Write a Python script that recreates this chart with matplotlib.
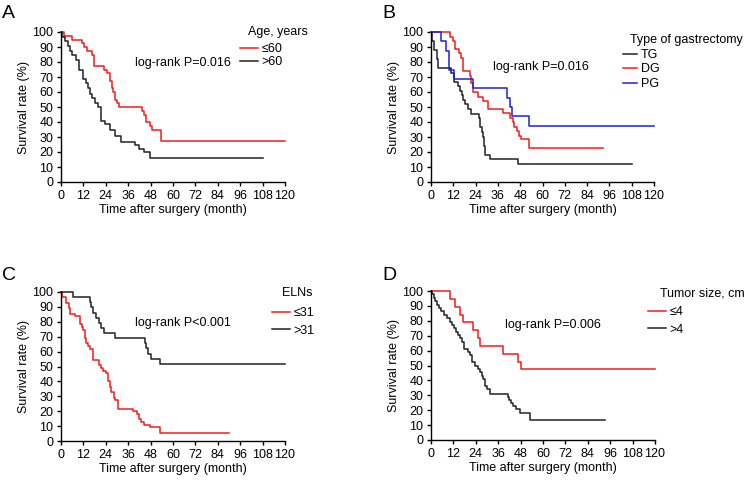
import matplotlib
matplotlib.use("Agg")
import matplotlib.pyplot as plt
from matplotlib.lines import Line2D

plt.rcParams['font.family'] = ['Liberation Sans', 'DejaVu Sans']
plt.rcParams['font.size'] = 9

RED = '#f01c1c'
BLACK = '#222222'
BLUE = '#1f22d0'

# Panel A - age
a_le60_t = [0, 1.6, 5.7, 11.1, 12.3, 14.1, 16.4, 17.9, 23.0, 24.8, 26.3, 27.1, 28.0, 28.9, 29.8,
            31.3, 43.2, 44.2, 45.4, 47.8, 49.0, 53.5, 120]
a_le60_s = [100, 97.5, 95, 92.5, 90, 87.5, 85, 77.5, 75, 72.5, 67.5, 62.5, 60, 55, 52.5,
            50, 47.5, 45, 40, 37.5, 35, 27.5, 27.5]
a_gt60_t = [0, 0.6, 2.1, 3.6, 4.8, 6.1, 8.0, 9.8, 12.0, 13.2, 14.3, 15.5, 16.4, 18.2, 20.0,
            21.3, 23.5, 26.5, 29.0, 32.0, 39.5, 42.0, 44.5, 47.5, 108]
a_gt60_s = [100, 96.9, 93.8, 90.6, 87.5, 84.4, 81.3, 75, 69, 66, 62.5, 59, 56, 53, 50,
            41, 38.5, 34.5, 31, 27, 25, 22, 20, 16, 16]

# Panel B - type of gastrectomy
b_tg_t = [0, 0.7, 1.8, 3.0, 4.0, 10.8, 12.6, 14.3, 15.6, 16.5, 17.4, 18.3, 20.1, 21.3, 25.8,
          26.5, 27.2, 27.8, 28.4, 29.0, 31.5, 47.0, 108]
b_tg_s = [100, 94, 88, 82, 76, 73, 67, 64, 61, 58, 55, 52, 48.5, 45.5, 42.4,
          36.4, 33.3, 30.3, 24.2, 18.2, 15.2, 12.1, 12.1]
b_dg_t = [0, 10.2, 11.7, 12.9, 15.2, 16.1, 17.4, 21.0, 21.6, 22.8, 25.5, 28.2, 30.5, 38.6,
          42.5, 44.0, 44.8, 46.1, 47.4, 48.4, 52.7, 92.5]
b_dg_s = [100, 97, 94, 88.5, 85.7, 83, 74, 71, 66, 60, 57, 54, 48.5, 46,
          43, 40, 37, 34, 31, 28.5, 23, 23]
b_pg_t = [0, 5.4, 8.0, 9.6, 12.6, 22.5, 40.7, 42.6, 43.2, 43.8, 52.9, 120]
b_pg_s = [100, 93.75, 87.5, 75, 68.75, 62.5, 56.25, 50, 50, 43.75, 37.5, 37.5]

# Panel C - ELNs
c_le31_t = [0, 0.8, 2.8, 4.2, 5.0, 7.5, 10.0, 11.0, 12.0, 12.6, 13.4, 14.6, 15.8, 17.0, 20.5,
            21.6, 22.6, 24.0, 25.3, 26.3, 27.0, 28.2, 29.0, 30.8, 38.8, 40.8, 42.0, 43.0,
            44.3, 47.7, 53.2, 90.0]
c_le31_s = [100, 96.4, 92.7, 89.1, 85.5, 83.6, 78.2, 76.4, 74.5, 69.1, 65.5, 63.6, 61.8, 54.5, 50.9,
            49.1, 47.3, 45.5, 40.0, 36.4, 32.7, 29.1, 27.3, 21.8, 20.0, 18.2, 14.5, 12.7,
            10.9, 9.1, 5.5, 5.5]
c_gt31_t = [0, 6.6, 15.8, 16.3, 17.3, 18.8, 20.6, 21.5, 23.2, 29.0, 45.0, 45.6, 46.5, 48.0, 53.0, 120]
c_gt31_s = [100, 96.6, 93.1, 89.7, 86.2, 82.8, 79.3, 75.9, 72.4, 69.0, 65.5, 62.1, 58.6, 55.2, 51.7, 51.7]

# Panel D - tumor size
d_le4_t = [0, 10.0, 12.7, 15.3, 17.3, 22.6, 25.4, 26.4, 38.8, 46.6, 48.1, 120]
d_le4_s = [100, 94.7, 89.5, 84.2, 78.9, 73.7, 68.4, 63.2, 57.9, 52.6, 47.4, 47.4]
d_gt4_t = [0, 0.6, 1.5, 2.3, 3.3, 4.2, 5.4, 7.0, 8.5, 10.0, 11.2, 12.3, 13.2, 14.5, 15.5, 16.4,
           17.5, 19.8, 21.0, 21.8, 23.5, 25.2, 26.3, 27.2, 28.0, 29.0, 30.0, 31.8,
           41.0, 41.8, 42.8, 43.7, 45.5, 47.8, 53.0, 93.0]
d_gt4_s = [100, 97.7, 95.5, 93.2, 90.9, 88.6, 86.4, 84.1, 81.8, 79.5, 77.3, 75.0, 72.7, 70.5, 68.2, 65.9,
           61.4, 59.1, 56.8, 52.3, 50.0, 47.7, 45.5, 43.2, 40.9, 36.4, 34.1, 30.7,
           29.0, 27.0, 25.0, 22.7, 20.5, 18.2, 13.6, 13.6]

W, H = 744, 480
fig = plt.figure(figsize=(W / 100, H / 100), dpi=100)


def make_axes(x0, x1, ytop, ybot):
    ax = fig.add_axes([x0 / W, 1 - ybot / H, (x1 - x0) / W, (ybot - ytop) / H])
    ax.set_xlim(0, 120)
    ax.set_ylim(0, 100)
    ax.set_xticks(range(0, 121, 12))
    ax.set_yticks(range(0, 101, 10))
    for s in ['top', 'right']:
        ax.spines[s].set_visible(False)
    for s in ['left', 'bottom']:
        ax.spines[s].set_linewidth(1.0)
    ax.tick_params(direction='out', length=3, width=1.0, labelsize=9, pad=2.5)
    ax.set_xlabel('Time after surgery (month)', fontsize=9, labelpad=1.5)
    ax.set_ylabel('Survival rate (%)', fontsize=9, labelpad=2)
    ax.patch.set_alpha(0)
    return ax


def km(ax, t, s, color):
    ax.step(t, s, where='post', color=color, lw=1.1, clip_on=False)


def add_legend(ax, colors, labels, title, x, y, tx, ty, hl=1.4, sp=0.12):
    handles = [Line2D([], [], color=c, lw=1.1) for c in colors]
    ax.legend(handles, labels, loc='upper left', bbox_to_anchor=(x / W, 1 - y / H),
              bbox_transform=fig.transFigure, frameon=False, fontsize=9,
              handlelength=hl, handletextpad=0.3, labelspacing=sp,
              borderpad=0, borderaxespad=0)
    fig.text(tx / W, 1 - ty / H, title, fontsize=9, ha='left', va='center')


# A
axA = make_axes(61, 285, 32, 182)
km(axA, a_le60_t, a_le60_s, RED)
km(axA, a_gt60_t, a_gt60_s, BLACK)
fig.text(135 / W, 1 - 63 / H, 'log-rank P=0.016', fontsize=9, va='center')
add_legend(axA, [RED, BLACK], ['\u226460', '>60'], 'Age, years', 240, 43, 248, 32, sp=0.08)

# B
axB = make_axes(431, 654, 32, 182)
km(axB, b_tg_t, b_tg_s, BLACK)
km(axB, b_dg_t, b_dg_s, RED)
km(axB, b_pg_t, b_pg_s, BLUE)
fig.text(493 / W, 1 - 67 / H, 'log-rank P=0.016', fontsize=9, va='center')
add_legend(axB, [BLACK, RED, BLUE], ['TG', 'DG', 'PG'], 'Type of gastrectomy',
           623, 49, 630, 40, hl=1.15, sp=0.2)

# C
axC = make_axes(61, 285, 292, 441)
km(axC, c_le31_t, c_le31_s, RED)
km(axC, c_gt31_t, c_gt31_s, BLACK)
fig.text(135 / W, 1 - 323 / H, 'log-rank P<0.001', fontsize=9, va='center')
add_legend(axC, [RED, BLACK], ['\u226431', '>31'], 'ELNs', 272, 307, 282, 293, sp=0.45)

# D
axD = make_axes(431, 655, 291, 440)
km(axD, d_le4_t, d_le4_s, RED)
km(axD, d_gt4_t, d_gt4_s, BLACK)
fig.text(505 / W, 1 - 325 / H, 'log-rank P=0.006', fontsize=9, va='center')
add_legend(axD, [RED, BLACK], ['\u22644', '>4'], 'Tumor size, cm', 648, 306, 660, 293, sp=0.45)

for letter, x, y in [('A', 2, 13), ('B', 382, 13), ('C', 2, 275), ('D', 382, 275)]:
    fig.text(x / W, 1 - y / H, letter, fontsize=14, ha='left', va='center')

fig.savefig('out.png', dpi=100)
